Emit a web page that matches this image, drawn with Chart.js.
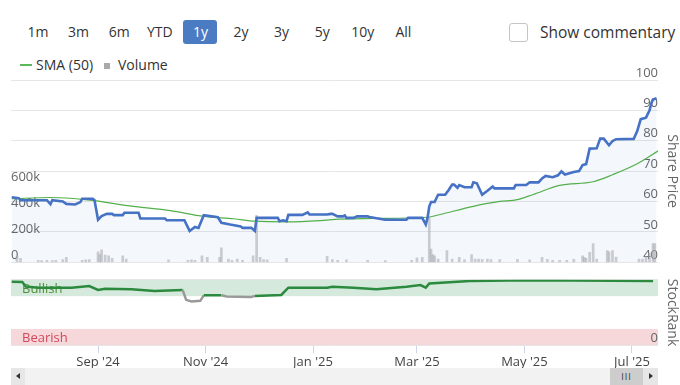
<!DOCTYPE html>
<html lang="en">
<head>
<meta charset="UTF-8">
<title>Share Price / StockRank</title>
<script src="https://cdn.jsdelivr.net/npm/chart.js"></script>
<style>
  body { margin: 0; width: 680px; height: 385px; overflow: hidden; background: #fff;
         font-family: 'Open Sans', sans-serif; color: #333; position: relative; }
  .abs { position: absolute; }
  .btn { position: absolute; top: 20px; width: 34px; height: 24px; line-height: 24px;
         text-align: center; font-size: 14px; border-radius: 3px; color: #333; }
  .btn.on { background: #4b7bc3; color: #fff; }
  #check { left: 509px; top: 23px; width: 17px; height: 17px; border: 1px solid #c4c4c4; border-radius: 3px; }
  #comment { left: 540px; top: 20px; font-size: 15.5px; line-height: 24px; }
  .leg { position: absolute; top: 55px; font-size: 14px; line-height: 20px; }
  canvas { position: absolute; left: 0; }
  #scroll { left: 11px; top: 368px; width: 647px; height: 17px; background: #f2f2f2; }
  .sbtn { position: absolute; top: 368px; height: 17px; background: #e6e6e6; }
  .tri { position: absolute; top: 5px; width: 0; height: 0; border-top: 3.5px solid transparent; border-bottom: 3.5px solid transparent; }
</style>
</head>
<body>
<div id="buttons"></div>
<div id="check" class="abs"></div>
<div id="comment" class="abs">Show commentary</div>

<div class="abs" style="left:20px;top:64px;width:12px;height:2px;background:#5cb85c"></div>
<div class="leg" style="left:36px">SMA (50)</div>
<div class="abs" style="left:104px;top:63px;width:6px;height:6px;background:#aaa"></div>
<div class="leg" style="left:118px">Volume</div>

<canvas id="priceChart" width="680" height="210" style="top:60px"></canvas>
<canvas id="rankChart" width="680" height="96" style="top:272px"></canvas>

<div id="scroll" class="abs"></div>
<div class="sbtn" style="left:11px;width:14px"><div class="tri" style="left:5px;border-right:4px solid #333"></div></div>
<div class="sbtn" style="left:610px;width:33px;background:#cdcdcd;font-size:9px;line-height:17px;text-align:center;color:#333;letter-spacing:1px">III</div>
<div class="sbtn" style="left:643px;width:15px"><div class="tri" style="left:6px;border-left:4px solid #333"></div></div>

<script>
const rangeButtons = ['1m', '3m', '6m', 'YTD', '1y', '2y', '3y', '5y', '10y', 'All'];
const selectedRange = '1y';

const priceDates = [
  '2024-07-14', '2024-07-18', '2024-07-19', '2024-08-03', '2024-08-05', '2024-08-06', '2024-08-12',
  '2024-08-14', '2024-08-19', '2024-08-22', '2024-08-23', '2024-08-29', '2024-08-30', '2024-09-01',
  '2024-09-03', '2024-09-06', '2024-09-09', '2024-09-10', '2024-09-15', '2024-09-16', '2024-09-24',
  '2024-09-25', '2024-10-09', '2024-10-10', '2024-10-20', '2024-10-23', '2024-10-26', '2024-10-28',
  '2024-10-31', '2024-11-08', '2024-11-10', '2024-11-15', '2024-11-21', '2024-11-22', '2024-11-27',
  '2024-11-29', '2024-11-30', '2024-12-12', '2024-12-13', '2024-12-15', '2024-12-17', '2024-12-18',
  '2024-12-26', '2024-12-29', '2024-12-30', '2025-01-09', '2025-01-11', '2025-01-12', '2025-01-15',
  '2025-01-18', '2025-01-19', '2025-01-20', '2025-01-24', '2025-01-26', '2025-02-01', '2025-02-02',
  '2025-02-11', '2025-02-23', '2025-02-24', '2025-03-04', '2025-03-06', '2025-03-07', '2025-03-08',
  '2025-03-09', '2025-03-11', '2025-03-13', '2025-03-17', '2025-03-19', '2025-03-21', '2025-03-22',
  '2025-03-24', '2025-03-25', '2025-03-28', '2025-04-01', '2025-04-02', '2025-04-04', '2025-04-07',
  '2025-04-10', '2025-04-13', '2025-04-14', '2025-04-25', '2025-04-26', '2025-05-02', '2025-05-04',
  '2025-05-09', '2025-05-11', '2025-05-13', '2025-05-17', '2025-05-20', '2025-05-22', '2025-05-24',
  '2025-05-29', '2025-06-01', '2025-06-03', '2025-06-05', '2025-06-07', '2025-06-11', '2025-06-13',
  '2025-06-15', '2025-06-18', '2025-06-20', '2025-06-22', '2025-07-02', '2025-07-04', '2025-07-06',
  '2025-07-09', '2025-07-11', '2025-07-12', '2025-07-13', '2025-07-15'
];
const priceValues = [
  61.4, 61.1, 60.4, 60.4, 59.1, 60.4, 60.0,
  59.2, 59.0, 59.8, 60.9, 60.9, 60.4, 54.0,
  55.2, 55.9, 55.9, 55.5, 55.5, 56.3, 56.3,
  54.4, 54.4, 53.8, 53.8, 50.3, 51.6, 51.3,
  55.5, 54.8, 53.0, 52.4, 51.8, 51.3, 51.3,
  50.3, 54.6, 54.6, 53.5, 53.8, 53.5, 55.6,
  55.6, 56.4, 55.7, 55.7, 55.9, 55.9, 55.1,
  55.1, 55.4, 54.6, 54.6, 55.1, 55.1, 54.9,
  54.0, 54.0, 54.6, 54.6, 52.4, 54.6, 58.4,
  59.8, 59.8, 62.2, 62.2, 63.8, 65.6, 65.6,
  64.5, 65.4, 64.7, 64.7, 66.3, 66.0, 62.2,
  63.5, 64.9, 64.3, 64.3, 65.4, 65.4, 66.3,
  66.3, 67.6, 68.4, 68.0, 68.6, 69.9, 68.9,
  69.7, 70.0, 72.0, 72.3, 77.4, 77.5, 80.7,
  80.7, 78.5, 79.9, 80.5, 80.6, 83.2, 87.1,
  87.6, 90.0, 92.4, 93.6, 94.0
];

const smaDates = [
  '2024-07-14', '2024-08-05', '2024-08-26', '2024-09-21', '2024-10-12', '2024-10-31', '2024-11-17',
  '2024-11-29', '2024-12-17', '2025-01-05', '2025-01-16', '2025-02-04', '2025-03-07', '2025-03-14',
  '2025-04-02', '2025-04-17', '2025-04-27', '2025-05-06', '2025-05-21', '2025-06-09', '2025-06-20',
  '2025-07-04', '2025-07-16'
];
const smaValues = [
  60.9, 61.3, 60.5, 58.4, 57.0, 55.1, 54.3,
  53.5, 53.3, 53.7, 54.2, 54.4, 54.8, 55.7,
  58.4, 60.0, 60.6, 62.3, 65.3, 66.5, 68.8,
  72.4, 76.7
];

const volumeDates = [
  '2024-07-17', '2024-07-19', '2024-07-29', '2024-07-31', '2024-08-03', '2024-08-06', '2024-08-08',
  '2024-08-12', '2024-08-14', '2024-08-23', '2024-08-25', '2024-08-27', '2024-09-01', '2024-09-02',
  '2024-09-03', '2024-09-05', '2024-09-07', '2024-09-09', '2024-09-15', '2024-09-17', '2024-10-11',
  '2024-10-22', '2024-10-24', '2024-10-26', '2024-10-30', '2024-11-02', '2024-11-09', '2024-11-10',
  '2024-11-14', '2024-11-16', '2024-11-19', '2024-11-22', '2024-11-28', '2024-11-30', '2024-12-02',
  '2024-12-04', '2024-12-06', '2024-12-17', '2025-01-09', '2025-01-12', '2025-01-15', '2025-01-20',
  '2025-02-01', '2025-02-11', '2025-02-26', '2025-03-01', '2025-03-04', '2025-03-08', '2025-03-09',
  '2025-03-10', '2025-03-11', '2025-03-13', '2025-03-18', '2025-03-21', '2025-03-25', '2025-03-28',
  '2025-04-01', '2025-04-03', '2025-04-05', '2025-04-07', '2025-04-10', '2025-04-12', '2025-04-17',
  '2025-04-27', '2025-05-04', '2025-05-11', '2025-05-14', '2025-05-17', '2025-05-21', '2025-05-25',
  '2025-05-29', '2025-06-03', '2025-06-04', '2025-06-05', '2025-06-07', '2025-06-09', '2025-06-11',
  '2025-06-17', '2025-06-18', '2025-06-20', '2025-06-22', '2025-07-05', '2025-07-07', '2025-07-09',
  '2025-07-11', '2025-07-13', '2025-07-14'
];
const volumeValues = [
  45000, 30000, 15000, 12000, 15000, 12000, 15000,
  20000, 38000, 15000, 18000, 20000, 80000, 60000,
  95000, 55000, 50000, 30000, 50000, 25000, 18000,
  15000, 18000, 15000, 50000, 38000, 38000, 110000,
  25000, 15000, 25000, 15000, 50000, 362000, 38000,
  20000, 18000, 30000, 45000, 20000, 15000, 18000,
  15000, 12000, 15000, 33000, 38000, 342000, 101000,
  58000, 50000, 25000, 89000, 25000, 38000, 20000,
  58000, 25000, 25000, 22000, 25000, 20000, 20000,
  23000, 18000, 38000, 22000, 15000, 15000, 15000,
  22000, 50000, 38000, 30000, 76000, 144000, 25000,
  89000, 80000, 89000, 40000, 25000, 25000, 45000,
  70000, 144000, 144000
];
const volumeTicks = [0, 200000, 400000, 600000];

const rankDates = [
  '2024-07-14', '2024-07-20', '2024-07-22', '2024-07-29', '2024-08-17', '2024-08-27', '2024-09-01',
  '2024-09-05', '2024-09-20', '2024-10-03', '2024-10-19', '2024-10-21', '2024-10-24', '2024-10-29',
  '2024-10-31', '2024-11-10', '2024-11-13', '2024-11-27', '2024-11-29', '2024-12-14', '2024-12-18',
  '2025-01-09', '2025-01-12', '2025-01-24', '2025-02-06', '2025-02-23', '2025-03-03', '2025-03-06',
  '2025-03-08', '2025-03-31', '2025-05-04', '2025-07-13'
];
const rankValues = [
  97, 96.5, 89.6, 88, 88, 90.5, 84.5,
  86.4, 85.4, 83, 84.5, 69.4, 66.8, 67.9,
  76.3, 76.3, 74.4, 73.9, 75.4, 76.9, 88,
  88, 89.4, 88, 85.4, 89.4, 92, 88,
  94.5, 98, 99.5, 98
];

const tickDates = ['2024-09-01', '2024-11-01', '2025-01-01', '2025-03-01', '2025-05-01', '2025-07-01'];
const tickLabels = ["Sep '24", "Nov '24", "Jan '25", "Mar '25", "May '25", "Jul '25"];

// day number counted from 1 Sep 2024
function day(s) {
  const p = s.split('-').map(Number);
  return (Date.UTC(p[0], p[1] - 1, p[2]) - Date.UTC(2024, 8, 1)) / 864e5;
}
function points(dates, values) {
  return dates.map((d, i) => ({ x: day(d), y: values[i] }));
}

const X_MIN = -49.4, X_MAX = 317.8;
const font = { family: "'Open Sans', sans-serif", size: 13 };

// buttons row
const bx = document.getElementById('buttons');
rangeButtons.forEach((r, i) => {
  const b = document.createElement('div');
  b.className = 'btn' + (r === selectedRange ? ' on' : '');
  b.style.left = (21 + i * 40.6) + 'px';
  b.textContent = r;
  bx.appendChild(b);
});

new Chart(document.getElementById('priceChart'), {
  type: 'line',
  data: {
    datasets: [
      {
        label: 'Price',
        data: points(priceDates, priceValues),
        yAxisID: 'y',
        borderColor: '#4572c4',
        borderWidth: 2.6,
        backgroundColor: 'rgba(69,114,196,0.06)',
        fill: 'start',
        pointRadius: 0,
        order: 0
      },
      {
        label: 'SMA (50)',
        data: points(smaDates, smaValues),
        yAxisID: 'y',
        borderColor: '#52b04a',
        borderWidth: 1.2,
        pointRadius: 0,
        fill: false,
        cubicInterpolationMode: 'monotone',
        order: 1
      },
      {
        type: 'bar',
        label: 'Volume',
        data: points(volumeDates, volumeValues),
        yAxisID: 'yVol',
        backgroundColor: 'rgba(165,165,175,0.55)',
        barThickness: 2,
        order: 2
      }
    ]
  },
  options: {
    responsive: false,
    animation: false,
    layout: { padding: { left: 11, top: 20, right: 0, bottom: 5 } },
    plugins: { legend: { display: false }, tooltip: { enabled: false }, filler: { drawTime: 'beforeDatasetsDraw' } },
    scales: {
      x: { type: 'linear', min: X_MIN, max: X_MAX, offset: false, grid: { offset: false }, display: false },
      y: {
        position: 'right', min: 40, max: 100,
        ticks: { stepSize: 10, mirror: true, padding: 0, labelOffset: -7, color: '#666', font: font },
        grid: { color: '#e6e6e6', drawTicks: false },
        border: { display: false },
        title: { display: true, text: 'Share Price', color: '#666', font: { family: font.family, size: 14 }, padding: { top: 0, bottom: 0 } },
        afterFit: s => { s.width = 22; }
      },
      yVol: {
        position: 'left', min: 0, max: 1405000,
        afterBuildTicks: s => { s.ticks = volumeTicks.map(v => ({ value: v })); },
        ticks: { mirror: true, padding: 0, labelOffset: -7, color: '#666', font: font,
                 callback: v => v === 0 ? '0' : (v / 1000) + 'k' },
        grid: { display: false },
        border: { display: false },
        afterFit: s => { s.width = 0; }
      }
    }
  }
});

const bandPlugin = {
  id: 'bands',
  beforeDraw(chart) {
    const { ctx, chartArea: a, scales: { y } } = chart;
    const band = (from, to, color, text, textColor) => {
      const top = y.getPixelForValue(to), bot = y.getPixelForValue(from);
      ctx.fillStyle = color;
      ctx.fillRect(a.left, top, a.right - a.left, bot - top);
      ctx.fillStyle = textColor;
      ctx.font = "13px 'Open Sans', sans-serif";
      ctx.textBaseline = 'middle';
      ctx.fillText(text, 22, (top + bot) / 2 + 1.5);
    };
    ctx.save();
    band(75, 100, '#d5eadc', 'Bullish', '#4e8f3a');
    band(0, 25, '#f6d8db', 'Bearish', '#d2475a');
    ctx.restore();
  }
};

const tickDays = tickDates.map(day);

new Chart(document.getElementById('rankChart'), {
  type: 'line',
  data: {
    datasets: [{
      label: 'StockRank',
      data: points(rankDates, rankValues),
      borderColor: '#2b8a3e',
      borderWidth: 2.5,
      pointRadius: 0,
      segment: {
        borderColor: c => (c.p0.parsed.y < 75 || c.p1.parsed.y < 75) ? '#999' : '#2b8a3e'
      }
    }]
  },
  options: {
    responsive: false,
    animation: false,
    layout: { padding: { left: 11, top: 7, right: 0, bottom: 0 } },
    plugins: { legend: { display: false }, tooltip: { enabled: false } },
    scales: {
      x: {
        type: 'linear', min: X_MIN, max: X_MAX,
        afterBuildTicks: s => { s.ticks = tickDays.map(v => ({ value: v })); },
        ticks: { autoSkip: false, maxRotation: 0, padding: 1, color: '#444', font: font,
                 callback: v => tickLabels[tickDays.indexOf(v)] },
        grid: { drawOnChartArea: false, tickLength: 8, color: '#ccd6eb' },
        border: { display: false },
        afterFit: s => { s.height = 22.7; }
      },
      y: {
        position: 'right', min: 0, max: 100,
        afterBuildTicks: s => { s.ticks = [{ value: 0 }, { value: 100 }]; },
        ticks: { mirror: true, padding: 0, labelOffset: -7, color: '#666', font: font,
                 callback: v => v === 0 ? '0' : '' },
        grid: { color: '#e6e6e6', drawTicks: false },
        border: { display: false },
        title: { display: true, text: 'StockRank', color: '#666', font: { family: font.family, size: 14 }, padding: { top: 0, bottom: 0 } },
        afterFit: s => { s.width = 22; }
      }
    }
  },
  plugins: [bandPlugin]
});
</script>
</body>
</html>
